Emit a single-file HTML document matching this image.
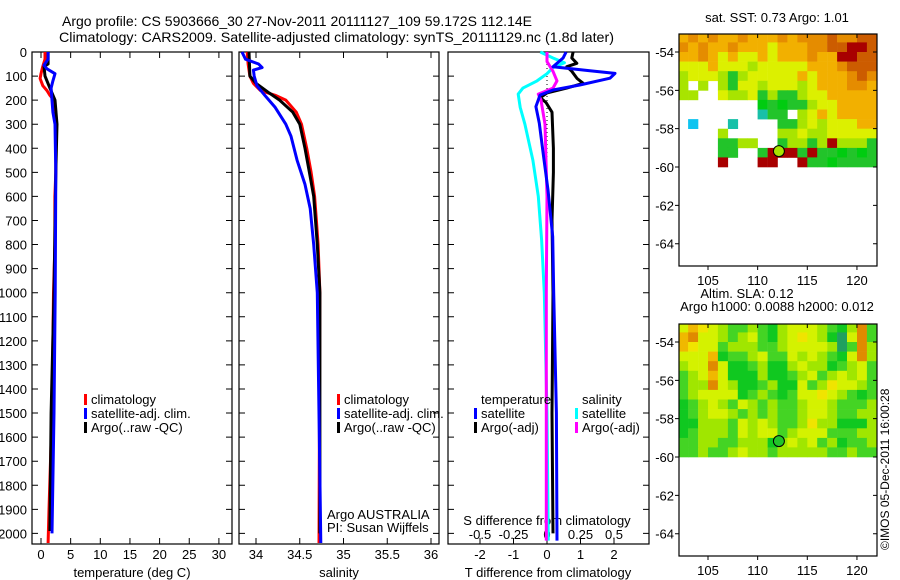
<!DOCTYPE html>
<html><head><meta charset="utf-8"><style>
html,body{margin:0;padding:0;background:#fff;}
svg{display:block;font-family:"Liberation Sans",sans-serif;}
text{font-size:13px;fill:#000;}
</style></head><body>
<svg id="fig" width="900" height="580" viewBox="0 0 900 580" xmlns="http://www.w3.org/2000/svg">
<text x="62" y="26" textLength="470" lengthAdjust="spacingAndGlyphs" style="font-size:14px">Argo profile: CS 5903666_30 27-Nov-2011 20111127_109 59.172S 112.14E</text>
<text x="59" y="42" textLength="555" lengthAdjust="spacingAndGlyphs" style="font-size:14px">Climatology: CARS2009. Satellite-adjusted climatology: synTS_20111129.nc (1.8d later)</text>
<g id="g1"></g>
<g id="g2"></g>
<g id="g3"></g>
<g id="m1"></g>
<g id="m2"></g>
<text transform="translate(889,550) rotate(-90)" x="0" y="0" style="font-size:12px">©IMOS 05-Dec-2011 16:00:28</text>
</svg>
<script>
// ---------- data ----------
const tempDepthRed = [0,30,60,90,110,140,160,180,200,250,300,500,600,800,1000,1500,1900,2040];
const tempRed      = [0.67,0.67,0.3,0.0,-0.15,0.3,1.0,1.5,2.2,2.5,2.5,2.5,2.35,2.35,2.1,1.85,1.35,1.2];
const tempDepthBlue = [0,30,55,70,90,120,150,200,250,300,500,1000,1500,2000];
const tempBlue      = [1.2,1.2,0.5,1.0,2.36,2.0,1.7,1.85,2.0,2.36,2.5,2.4,2.2,1.85];
const tempDepthBlack = [0,50,60,100,150,200,300,500,1000,1500,1990];
const tempBlack      = [1.2,1.2,0.5,0.67,1.5,2.36,2.7,2.5,2.2,1.7,1.5];

const salDepthRed = [0,50,100,130,160,180,200,250,300,400,500,600,700,800,1000,2040];
const salRed      = [33.9,33.91,33.93,33.97,34.05,34.22,34.34,34.46,34.52,34.58,34.63,34.67,34.69,34.71,34.73,34.72];
const salDepthBlack = [0,100,130,170,200,250,300,400,500,600,800,1000,2000];
const salBlack      = [33.92,33.93,34.0,34.15,34.27,34.42,34.5,34.56,34.61,34.66,34.7,34.73,34.73];
const salDepthBlue = [0,30,50,65,75,100,140,180,230,300,350,450,550,650,800,1000,2040];
const salBlue      = [33.84,33.88,34.03,34.07,33.97,33.98,34.01,34.1,34.22,34.34,34.4,34.47,34.56,34.62,34.66,34.7,34.74];

const dDepthBlue = [0,25,61,78,89,109,137,158,179,227,296,435,573,767,1000,1500,2030];
const dTempSat   = [0.57,0.48,0.18,1.28,2.03,1.88,0.98,0.18,-0.21,-0.33,-0.23,-0.1,0.03,0.17,0.2,0.28,0.3];
const dDepthBlack = [0,25,47,61,80,110,130,150,170,190,210,250,400,500,700,1000,1500,2000];
const dTempArgo   = [0.78,0.74,0.89,0.59,0.74,0.9,1.08,0.59,0.0,-0.2,-0.03,0.15,0.19,0.19,0.15,0.18,0.15,0.18];
const dDepthCyan = [0,25,45,65,90,120,150,175,230,300,450,600,780,1000,1500,2030];
const dSalSat    = [-0.05,0.045,0.13,0.045,0.0,-0.075,-0.18,-0.215,-0.2,-0.165,-0.105,-0.065,-0.04,-0.02,0.0,0.01];
const dDepthMag = [0,40,80,120,150,175,200,300,600,1000,2030];
const dSalArgo  = [0,0,0.045,0.075,0.045,-0.065,-0.045,-0.015,0,-0.005,-0.005];

const depthTicks = [0,100,200,300,400,500,600,700,800,900,1000,1100,1200,1300,1400,1500,1600,1700,1800,1900,2000];
const tempTicks = [0,5,10,15,20,25,30];
const salTicks = [34,34.5,35,35.5,36];
const dTTicks = [-2,-1,0,1,2];
const dSTicks = [-0.5,-0.25,0,0.25,0.5];
const dSTickLabels = ['-0.5','-0.25','0','0.25','0.5'];
const latTicks = [-54,-56,-58,-60,-62,-64];
const lonTicks = [105,110,115,120];

// SST map grid: rows from lat -53 downward by 0.5 deg, cols 1 deg lon from 102
const sstRows = [
"oOoOooOoooOoOOOrOOrr",
"OoOooOoooyoooOOrrRRr",
"ooOoyoyyoyoooOooRRrr",
"yyyoyyylyyyyyoooOrrr",
"lyyylglyyyyyoyoooOrO",
"l.l.lgyylyyylyoooOOo",
"ll..yllyglgglyyooooo",
"........GgGgglyyoooo",
"........tgg.lyoyoooo",
".b...t....gglylyyyoo",
"....l.....llyllyyyyy",
"....ggll..gllglRlllg",
"....gg..gRRRgRggGgGg",
"....R...RR..RggGgggg"];
const sstColors = {o:'#f2b000',O:'#e58c00',r:'#cc5c00',R:'#a80000',y:'#dcf000',l:'#a8e400',g:'#22c42a',G:'#00cc10',t:'#18c0a8',b:'#10c4f0'};
const slaRows = [
"yoYylgglgGlyyylgGlOg",
"oOyylglygGlyYylGTyOg",
"oYyyglllgglyyyylTgOl",
"yyyoGgglyggylylgGyOl",
"lyyOyGGglGGlyllGglyg",
"glyoyGGGlGGglyglylyg",
"gllOylGGglGGyglYyylg",
"glyyyyGglgGgyyYylgGg",
"Gglylgylglgglyylgggl",
"Gglyylglglgglyylggll",
"GGlllgylylgglYllGGGl",
"Gglllgylyyglyyygggll",
"ggllgglllGlylyglGggl",
"gglgglyllglllllgglgg"];
const slaColors = {y:'#d4f200',Y:'#f0e400',l:'#a0e600',g:'#44d424',G:'#10c820',T:'#20a060',o:'#f0b800',O:'#e08a00'};
const argoLon = 112.14, argoLat = -59.172;

// ---------- helpers ----------
const NS='http://www.w3.org/2000/svg';
function mk(parent, tag, attrs){const e=document.createElementNS(NS,tag);for(const k in attrs)e.setAttribute(k,attrs[k]);parent.appendChild(e);return e;}
const yTop=52, pxPer100=24.07;
function yD(d){return yTop + d*pxPer100/100;}
const yBot=544;

function panel(g, x0, x1, name){
  const r=mk(g,'rect',{x:x0,y:yTop,width:x1-x0,height:yBot-yTop,fill:'none',stroke:'#000','stroke-width':1.2});
  
  
  depthTicks.forEach(d=>{
    const y=yD(d);
    const t=mk(g,'path',{d:`M${x0},${y}h6M${x1},${y}h-6`,stroke:'#000','stroke-width':1});
    
    
  });
}
function xTicks(g, vals, sx, labels, yLab, name, top){
  vals.forEach((v,i)=>{
    const x=sx(v);
    const p=mk(g,'path',{d:top?`M${x},${yTop}v6M${x},${yBot}v-6`:`M${x},${yBot}v-6`,stroke:'#000','stroke-width':1});
    
    
    const t=mk(g,'text',{x:x,y:yLab,'text-anchor':'middle'});
    t.textContent=labels?labels[i]:String(v);
    
    
  });
}
function line(g, depths, vals, sx, color, name, w){
  const pts=depths.map((d,i)=>sx(vals[i]).toFixed(1)+','+yD(d).toFixed(1)).join(' ');
  const p=mk(g,'polyline',{points:pts,fill:'none',stroke:color,'stroke-width':w||3,'stroke-linejoin':'round'});
  
  
}
function txt(g,x,y,s,name,anchor){const t=mk(g,'text',{x:x,y:y,'text-anchor':anchor||'start'});t.textContent=s;return t;}
function legend(g,x,y,color,label,name){
  const r=mk(g,'rect',{x:x,y:y-10,width:3,height:11,fill:color});
  
  
  txt(g,x+7,y,label,name);
}

// ---------- panel 1: temperature ----------
const g1=document.getElementById('g1');
const sxT=v=>41+v*5.93;
panel(g1,32,232,'temperature-panel');
depthTicks.forEach(d=>txt(g1,27,yD(d)+5,String(d),'depth-tick-label','end'));
xTicks(g1,tempTicks,sxT,null,559,'temperature-axis',true);
txt(g1,132,577,'temperature (deg C)','temperature-axis-title','middle');
line(g1,tempDepthRed,tempRed,sxT,'#ff0000','temperature-climatology-line');
line(g1,tempDepthBlack,tempBlack,sxT,'#000000','temperature-argo-line');
line(g1,tempDepthBlue,tempBlue,sxT,'#0000ff','temperature-satellite-line');
legend(g1,84,404,'#ff0000','climatology','legend-climatology');
legend(g1,84,418,'#0000ff','satellite-adj. clim.','legend-satellite');
legend(g1,84,432,'#000000','Argo(..raw -QC)','legend-argo');

// ---------- panel 2: salinity ----------
const g2=document.getElementById('g2');
const sxS=v=>256+(v-34)*87.5;
panel(g2,239,439,'salinity-panel');
xTicks(g2,salTicks,sxS,null,559,'salinity-axis',true);
txt(g2,339,577,'salinity','salinity-axis-title','middle');
line(g2,salDepthRed,salRed,sxS,'#ff0000','salinity-climatology-line');
line(g2,salDepthBlack,salBlack,sxS,'#000000','salinity-argo-line');
line(g2,salDepthBlue,salBlue,sxS,'#0000ff','salinity-satellite-line');
legend(g2,337,404,'#ff0000','climatology','legend-climatology');
legend(g2,337,418,'#0000ff','satellite-adj. clim.','legend-satellite');
legend(g2,337,432,'#000000','Argo(..raw -QC)','legend-argo');
txt(g2,327,519,'Argo AUSTRALIA','institution-label');
txt(g2,327,532,'PI: Susan Wijffels','pi-label');

// ---------- panel 3: differences ----------
const g3=document.getElementById('g3');
const sxD=v=>547+v*33.5;
const sxDS=v=>547+v*134;
panel(g3,448,649,'difference-panel');
xTicks(g3,dTTicks,sxD,null,559,'t-difference-axis',false);
dSTicks.forEach((v,i)=>{const t=txt(g3,sxDS(v),539,dSTickLabels[i],'s-difference-tick-label','middle');});
txt(g3,547,525,'S difference from climatology','s-difference-axis-title','middle');
txt(g3,548,577,'T difference from climatology','t-difference-axis-title','middle');
const zl=mk(g3,'line',{x1:547,y1:yTop,x2:547,y2:yBot,stroke:'#000','stroke-width':1,'stroke-dasharray':'1,3'});


line(g3,dDepthCyan,dSalSat,sxDS,'#00ffff','salinity-satellite-diff-line');
line(g3,dDepthBlack,dTempArgo,sxD,'#000000','temperature-argo-diff-line');
line(g3,dDepthMag,dSalArgo,sxDS,'#ff00ff','salinity-argo-diff-line');
line(g3,dDepthBlue,dTempSat,sxD,'#0000ff','temperature-satellite-diff-line');
txt(g3,481,404,'temperature','legend-temperature-heading');
legend(g3,474,418,'#0000ff','satellite','legend-temperature-satellite');
legend(g3,474,432,'#000000','Argo(-adj)','legend-temperature-argo');
txt(g3,582,404,'salinity','legend-salinity-heading');
legend(g3,575,418,'#00ffff','satellite','legend-salinity-satellite');
legend(g3,575,432,'#ff00ff','Argo(-adj)','legend-salinity-argo');

// ---------- maps ----------
function drawMap(g, top, rows, colors, title1, title2, markerColor, name){
  const L=679,R=877,H=232,bottom=top+H;
  const lonX=lon=>708+(lon-105)*9.93;
  const latY=lat=>top+18+(-54-lat)*19.17;
  const cell0=102, latStart=-53;
  rows.forEach((row,ri)=>{
    for(let ci=0;ci<row.length;ci++){
      const c=row[ci]; if(c==='.')continue;
      const x0=Math.max(L,lonX(cell0+ci)), x1=Math.min(R,lonX(cell0+ci+1));
      const y0=Math.max(top,latY(latStart-ri*0.5)), y1=latY(latStart-(ri+1)*0.5);
      const r=mk(g,'rect',{x:x0.toFixed(1),y:y0.toFixed(1),width:(x1-x0+0.3).toFixed(1),height:(y1-y0+0.3).toFixed(1),fill:colors[c]});
      
      
    }
  });
  const fr=mk(g,'rect',{x:L,y:top,width:R-L,height:H,fill:'none',stroke:'#000','stroke-width':1.2});
  
  
  latTicks.forEach(lat=>{
    const y=latY(lat);
    const p=mk(g,'path',{d:`M${L},${y}h-4M${R},${y}h-4`,stroke:'#000'});
    
    
    txt(g,L-5,y+5,String(lat),name+'-lat-label','end');
  });
  lonTicks.forEach(lon=>{
    const x=lonX(lon);
    const p=mk(g,'path',{d:`M${x},${top}v4M${x},${bottom}v4`,stroke:'#000'});
    
    
    txt(g,x,bottom+19,String(lon),name+'-lon-label','middle');
  });
  const c=mk(g,'circle',{cx:lonX(argoLon),cy:latY(argoLat),r:5.5,fill:markerColor,stroke:'#000','stroke-width':1});
  
  
  if(title2){
    txt(g,747,top-26,title1,name+'-title','middle');
    txt(g,777,top-13,title2,name+'-subtitle','middle');
  } else {
    txt(g,777,top-12,title1,name+'-title','middle');
  }
}
drawMap(document.getElementById('m1'),34,sstRows,sstColors,'sat. SST: 0.73 Argo: 1.01',null,'#a8e400','sst-map');
drawMap(document.getElementById('m2'),324,slaRows,slaColors,'Altim. SLA: 0.12','Argo h1000: 0.0088 h2000: 0.012','#22c42a','sla-map');
</script>
</body></html>
